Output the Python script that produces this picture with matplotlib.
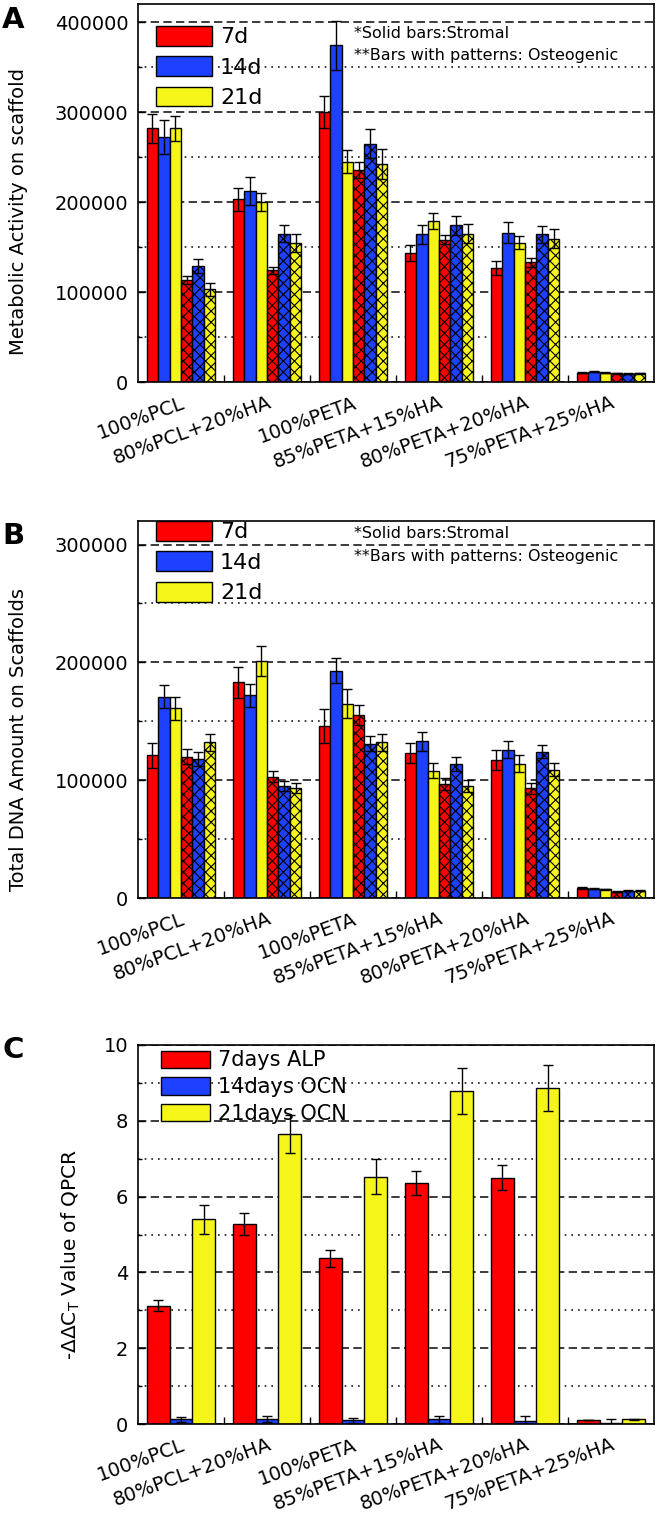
import matplotlib
matplotlib.use("Agg")
import matplotlib.pyplot as plt
from matplotlib.patches import Patch
from matplotlib.ticker import MultipleLocator, FixedLocator
import numpy as np

# ---------------- data ----------------
groups = ["100%PCL", "80%PCL+20%HA", "100%PETA", "85%PETA+15%HA",
          "80%PETA+20%HA", "75%PETA+25%HA"]

# Panel A: metabolic activity
meta_stromal_7d = [282000, 203000, 300000, 143000, 127000, 10500]
meta_stromal_14d = [272000, 212000, 374000, 164000, 166000, 11500]
meta_stromal_21d = [282000, 200000, 245000, 179000, 155000, 10500]
meta_osteo_7d = [113000, 124000, 236000, 158000, 133000, 9500]
meta_osteo_14d = [129000, 165000, 265000, 174000, 164000, 9000]
meta_osteo_21d = [103000, 155000, 242000, 165000, 159000, 9500]
meta_stromal_7d_err = [16000, 12500, 18000, 9000, 8000, 600]
meta_stromal_14d_err = [19000, 15500, 27000, 11000, 12000, 600]
meta_stromal_21d_err = [14000, 10000, 13000, 9000, 7500, 500]
meta_osteo_7d_err = [4500, 4000, 9000, 5000, 5000, 500]
meta_osteo_14d_err = [7500, 9000, 16000, 11000, 9000, 500]
meta_osteo_21d_err = [7000, 10000, 16500, 11000, 10500, 500]

# Panel B: total DNA
dna_stromal_7d = [121000, 183000, 146000, 123000, 117000, 8500]
dna_stromal_14d = [171000, 172000, 193000, 133000, 126000, 7800]
dna_stromal_21d = [161000, 201000, 165000, 108000, 114000, 7500]
dna_osteo_7d = [120000, 103000, 155000, 97000, 93000, 5500]
dna_osteo_14d = [118000, 95000, 131000, 114000, 124000, 6200]
dna_osteo_21d = [132000, 93500, 132000, 95000, 109000, 6000]
dna_stromal_7d_err = [10500, 13000, 14500, 8500, 8500, 500]
dna_stromal_14d_err = [10000, 10000, 10500, 8000, 7000, 400]
dna_stromal_21d_err = [10000, 12500, 12000, 6500, 7000, 400]
dna_osteo_7d_err = [6500, 4500, 8500, 5000, 5000, 400]
dna_osteo_14d_err = [5700, 4500, 6500, 6000, 5500, 400]
dna_osteo_21d_err = [7000, 4500, 7000, 5000, 5500, 400]

# Panel C: qPCR
alp_7d = [3.12, 5.28, 4.37, 6.36, 6.50, 0.10]
ocn_14d = [0.12, 0.14, 0.10, 0.12, 0.08, 0.02]
ocn_21d = [5.40, 7.66, 6.52, 8.78, 8.86, 0.12]
alp_7d_err = [0.14, 0.28, 0.22, 0.32, 0.33, 0.0]
ocn_14d_err = [0.06, 0.08, 0.07, 0.10, 0.12, 0.10]
ocn_21d_err = [0.38, 0.50, 0.46, 0.60, 0.60, 0.01]

legend_days = ["7d", "14d", "21d"]
legend_c = ["7days ALP", "14days OCN", "21days OCN"]

# ---------------- style ----------------
RED = "#FF0000"
BLUE = "#1E40FF"
YELLOW = "#F5F51A"
colors = [RED, BLUE, YELLOW]

W, H = 660, 1523
fig = plt.figure(figsize=(W / 100, H / 100), dpi=100)
plt.rcParams["hatch.linewidth"] = 0.8


def ax_rect(left, right, top, bottom):
    return [left / W, 1 - bottom / H, (right - left) / W, (bottom - top) / H]


x = np.arange(len(groups))
err_kw = dict(ecolor="black", elinewidth=1.0, capsize=3.5, capthick=1.0)


def style_axes(ax, ymax, major, minor, ylabel, label_x, label_y, ylabel_size):
    ax.set_xlim(-0.5, len(groups) - 0.5)
    ax.set_ylim(0, ymax)
    ax.set_axisbelow(True)
    ax.yaxis.set_major_locator(MultipleLocator(major))
    ax.yaxis.set_minor_locator(MultipleLocator(minor))
    ax.yaxis.grid(True, which="major", linestyle=(0, (5, 2.6)), color="#1a1a1a", lw=1.2)
    ax.yaxis.grid(True, which="minor", linestyle=(0, (1, 3)), color="#1a1a1a", lw=1.2)
    ax.set_xticks(x)
    ax.set_xticklabels(groups, fontsize=14, rotation=20, ha="right",
                       rotation_mode="anchor")
    ax.xaxis.set_minor_locator(FixedLocator(x[:-1] + 0.5))
    ax.tick_params(axis="x", which="major", length=0, pad=8)
    ax.tick_params(axis="x", which="minor", direction="in", length=5, width=1)
    ax.tick_params(axis="y", which="major", direction="in", length=5, width=1,
                   labelsize=14, pad=7)
    ax.tick_params(axis="y", which="minor", direction="in", length=3, width=1)
    for s in ax.spines.values():
        s.set_linewidth(1.2)
    ax.set_ylabel(ylabel, fontsize=ylabel_size)
    ax.yaxis.set_label_coords(label_x, label_y)


def six_bar_panel(ax, stromal, osteo, stromal_err, osteo_err):
    w = 0.133
    offs = (np.arange(6) - 2.5) * w
    for i in range(3):
        ax.bar(x + offs[i], stromal[i], w, yerr=stromal_err[i], color=colors[i],
               edgecolor="black", linewidth=1.0, error_kw=err_kw, zorder=2)
    for i in range(3):
        ax.bar(x + offs[3 + i], osteo[i], w, yerr=osteo_err[i], color=colors[i],
               edgecolor="black", linewidth=1.0, hatch="xxx", error_kw=err_kw, zorder=2)


def add_legend(ax, labels, y0, x0, fs, hl, hh, ls):
    handles = [Patch(facecolor=c, edgecolor="black", linewidth=1.0) for c in colors]
    ax.legend(handles, labels, loc="upper left", bbox_to_anchor=(x0, y0),
              frameon=False, fontsize=fs, handlelength=hl, handleheight=hh,
              handletextpad=0.36, labelspacing=ls, borderpad=0, borderaxespad=0)


# ---------------- Panel A ----------------
axA = fig.add_axes(ax_rect(138, 654, 4, 382))
six_bar_panel(axA,
              [meta_stromal_7d, meta_stromal_14d, meta_stromal_21d],
              [meta_osteo_7d, meta_osteo_14d, meta_osteo_21d],
              [meta_stromal_7d_err, meta_stromal_14d_err, meta_stromal_21d_err],
              [meta_osteo_7d_err, meta_osteo_14d_err, meta_osteo_21d_err])
style_axes(axA, 420000, 100000, 50000, "Metabolic Activity on scaffold",
           -0.214, 0.45, 14)
add_legend(axA, legend_days, 0.942, 0.035, 16, 2.52, 0.99, 0.40)
axA.text(0.418, 0.923, "*Solid bars:Stromal", transform=axA.transAxes,
         fontsize=11.5, va="center", ha="left")
axA.text(0.418, 0.865, "**Bars with patterns: Osteogenic", transform=axA.transAxes,
         fontsize=11.5, va="center", ha="left")

# ---------------- Panel B ----------------
axB = fig.add_axes(ax_rect(138, 654, 521, 898))
six_bar_panel(axB,
              [dna_stromal_7d, dna_stromal_14d, dna_stromal_21d],
              [dna_osteo_7d, dna_osteo_14d, dna_osteo_21d],
              [dna_stromal_7d_err, dna_stromal_14d_err, dna_stromal_21d_err],
              [dna_osteo_7d_err, dna_osteo_14d_err, dna_osteo_21d_err])
style_axes(axB, 320000, 100000, 50000, "Total DNA Amount on Scaffolds",
           -0.214, 0.42, 14)
add_legend(axB, legend_days, 1.0, 0.035, 16, 2.52, 0.99, 0.40)
axB.text(0.418, 0.968, "*Solid bars:Stromal", transform=axB.transAxes,
         fontsize=11.5, va="center", ha="left")
axB.text(0.418, 0.907, "**Bars with patterns: Osteogenic", transform=axB.transAxes,
         fontsize=11.5, va="center", ha="left")

# ---------------- Panel C ----------------
axC = fig.add_axes(ax_rect(138, 654, 1045, 1424))
wc = 0.267
c_vals = [alp_7d, ocn_14d, ocn_21d]
c_errs = [alp_7d_err, ocn_14d_err, ocn_21d_err]
for i in range(3):
    axC.bar(x + (i - 1) * wc, c_vals[i], wc, yerr=c_errs[i], color=colors[i],
            edgecolor="black", linewidth=1.0, error_kw=err_kw, zorder=2)
style_axes(axC, 10, 2, 1, "-ΔΔC$_\\mathregular{T}$ Value of QPCR",
           -0.108, 0.447, 14.5)
add_legend(axC, legend_c, 0.9855, 0.0446, 15, 2.36, 0.91, 0.32)

# ---------------- panel letters ----------------
for letter, top in (("A", 6), ("B", 522), ("C", 1036)):
    fig.text(2 / W, 1 - top / H, letter, fontsize=21, fontweight="bold",
             ha="left", va="top")

fig.savefig("out.png", dpi=100)
